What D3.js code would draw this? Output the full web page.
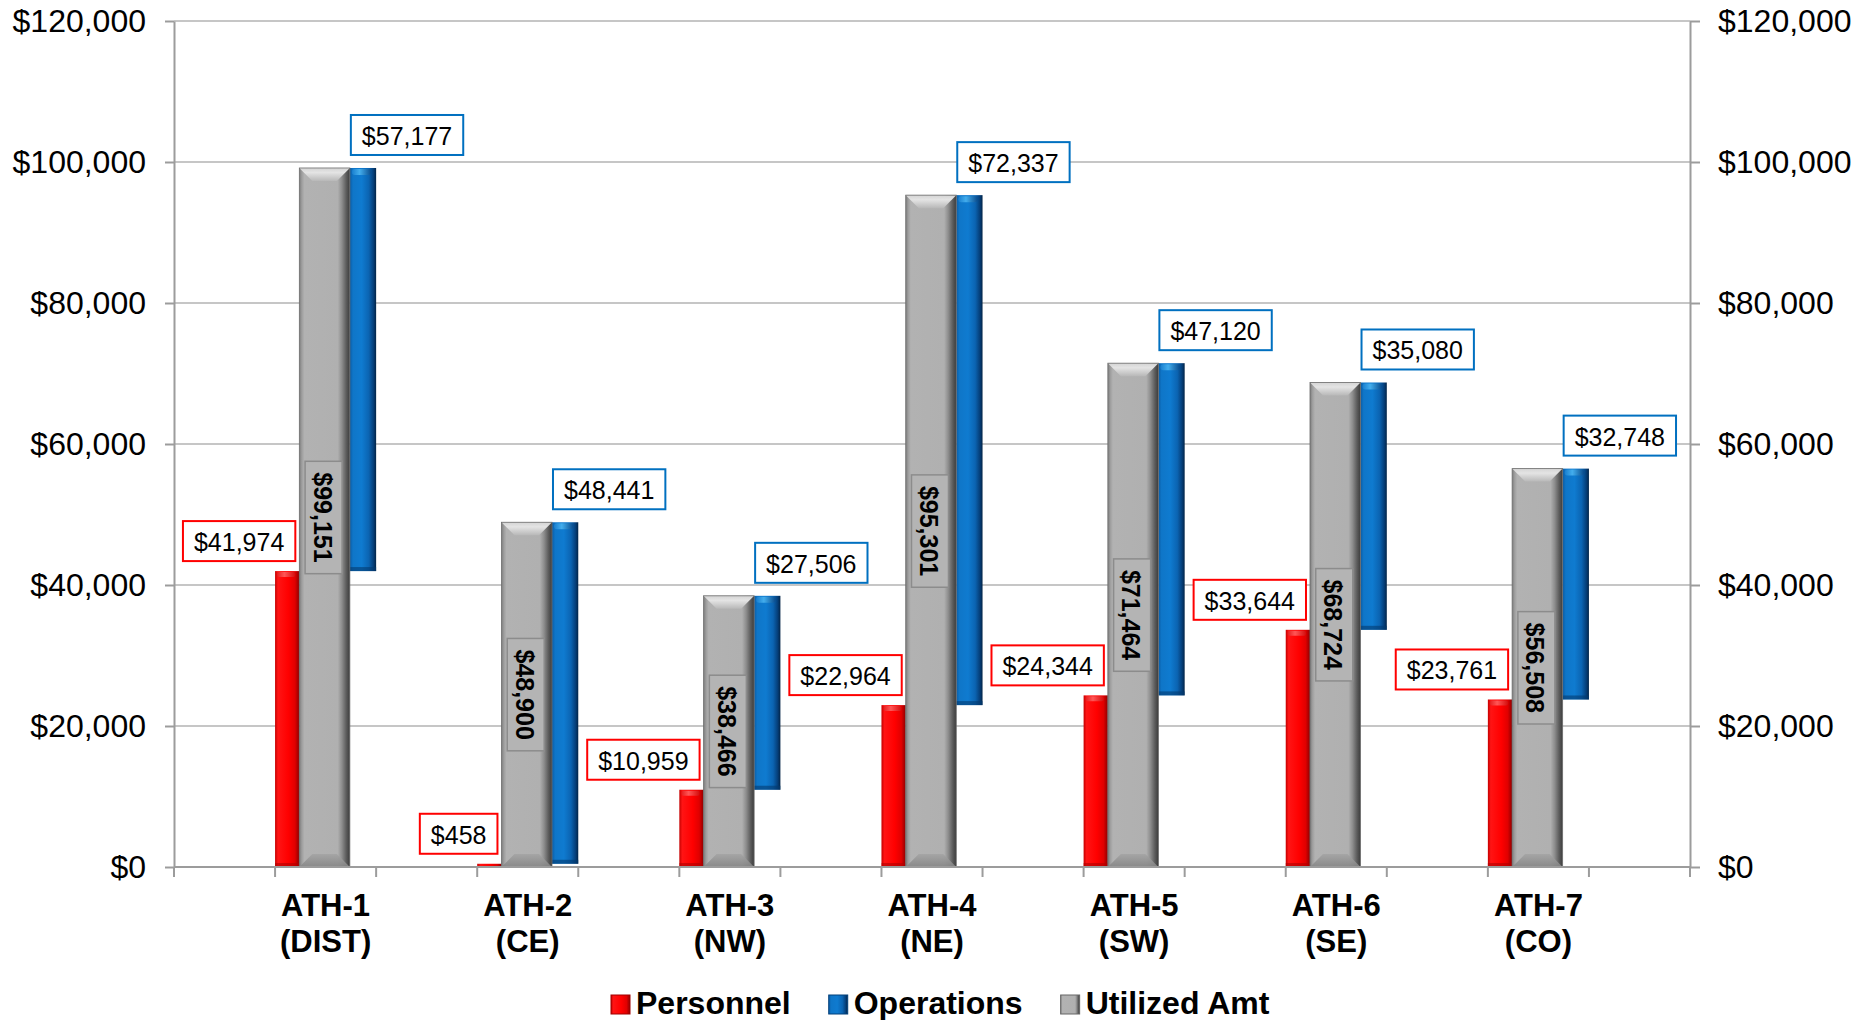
<!DOCTYPE html>
<html><head><meta charset="utf-8">
<script src="https://cdn.jsdelivr.net/npm/d3@7"></script>
<style>
html,body{margin:0;padding:0;background:#fff;}
svg{display:block;font-family:"Liberation Sans",Arial,Helvetica,sans-serif;}
</style></head><body>
<svg id="chart" width="1868" height="1020"></svg>
<script>
// ---- data ----
const categories = ["ATH-1","ATH-2","ATH-3","ATH-4","ATH-5","ATH-6","ATH-7"];
const subLabels  = ["(DIST)","(CE)","(NW)","(NE)","(SW)","(SE)","(CO)"];
const personnel  = [41974, 458, 10959, 22964, 24344, 33644, 23761];
const operations = [57177, 48441, 27506, 72337, 47120, 35080, 32748];
const utilized   = [99151, 48900, 38466, 95301, 71464, 68724, 56508];
const yTicks     = [0, 20000, 40000, 60000, 80000, 100000, 120000];
const seriesNames = ["Personnel","Operations","Utilized Amt"];

// ---- layout ----
const L = 174, R = 1690, T = 21, B = 867;
const svg = d3.select("#chart");
const fmt = d3.format("$,.0f");

const x = d3.scaleBand().domain(categories).range([L, R]).paddingInner(0.5).paddingOuter(0.5);
const y = d3.scaleLinear().domain([0, 120000]).range([B, T]);
const bw = x.bandwidth();
const sub = d3.scaleLinear().domain([0, 1]).range([0, bw]);
const seg = {red: [0, 0.24], gray: [0.24, 0.74], blue: [0.74, 1.0]};

// ---- gradients ----
const defs = svg.append("defs");
function hgrad(id, stops) {
  const g = defs.append("linearGradient").attr("id", id).attr("x1", 0).attr("x2", 1).attr("y1", 0).attr("y2", 0);
  stops.forEach(s => g.append("stop").attr("offset", s[0]).attr("stop-color", s[1]));
}
function vgrad(id, stops) {
  const g = defs.append("linearGradient").attr("id", id).attr("x1", 0).attr("x2", 0).attr("y1", 0).attr("y2", 1);
  stops.forEach(s => g.append("stop").attr("offset", s[0]).attr("stop-color", s[1]));
}
hgrad("gGray", [[0,"#7c7c7c"],[0.05,"#9e9e9e"],[0.1,"#b2b2b2"],[0.76,"#b0b0b0"],[0.84,"#8e8e8e"],[0.93,"#5c5c5c"],[1,"#3c3c3c"]]);
vgrad("gGrayTop", [[0,"#d4d4d4"],[0.35,"#e4e4e4"],[1,"#b8b8b8"]]);
vgrad("gGrayBot", [[0,"#a4a4a4"],[1,"#858585"]]);
hgrad("gBlue", [[0,"#0b5ca4"],[0.12,"#0f76c8"],[0.45,"#0f7bd0"],[0.72,"#0b64b2"],[0.9,"#053e78"],[1,"#022447"]]);
hgrad("gRed", [[0,"#c40000"],[0.12,"#ff1414"],[0.55,"#ff0000"],[0.82,"#e00000"],[1,"#8e0000"]]);
hgrad("gRedTop", [[0,"#e02020"],[0.4,"#ff6a6a"],[1,"#d01010"]]);
hgrad("gBlueTop", [[0,"#1a80d0"],[0.4,"#4cb6f2"],[1,"#0a4a8a"]]);

// ---- gridlines ----
svg.append("g").selectAll("line").data(yTicks.filter(d => d > 0)).join("line")
  .attr("x1", L).attr("x2", R).attr("y1", d => y(d)).attr("y2", d => y(d))
  .attr("stroke", "#c6c6c6").attr("stroke-width", 2);

// ---- bars ----
const data = categories.map((c, i) => ({c, i, p: personnel[i], o: operations[i], u: utilized[i]}));
const bars = svg.append("g");

// red (Personnel)
data.forEach(d => {
  const x0 = x(d.c) + sub(seg.red[0]), x1 = x(d.c) + sub(seg.red[1]);
  const top = y(d.p), h = B - top;
  bars.append("rect").attr("x", x0).attr("y", top).attr("width", x1 - x0).attr("height", h).attr("fill", "url(#gRed)");
  if (h > 8) {
    bars.append("rect").attr("x", x0 + 2).attr("y", top + 1).attr("width", x1 - x0 - 6).attr("height", 5).attr("rx", 2).attr("fill", "url(#gRedTop)").attr("opacity", 0.8);
    bars.append("rect").attr("x", x0).attr("y", B - 4).attr("width", x1 - x0).attr("height", 4).attr("fill", "#b00000").attr("opacity", 0.6);
  }
});

// blue (Operations) floating from personnel to personnel + operations
data.forEach(d => {
  const x0 = x(d.c) + sub(seg.blue[0]), x1 = x(d.c) + sub(seg.blue[1]);
  const top = y(d.p + d.o), bot = y(d.p);
  bars.append("rect").attr("x", x0).attr("y", top).attr("width", x1 - x0).attr("height", bot - top).attr("fill", "url(#gBlue)");
  bars.append("rect").attr("x", x0 + 2).attr("y", top + 1).attr("width", x1 - x0 - 7).attr("height", 6).attr("rx", 3).attr("fill", "url(#gBlueTop)").attr("opacity", 0.85);
  bars.append("rect").attr("x", x0).attr("y", bot - 4).attr("width", x1 - x0).attr("height", 4).attr("fill", "#033a70").attr("opacity", 0.6);
});

// gray (Utilized)
data.forEach(d => {
  const x0 = x(d.c) + sub(seg.gray[0]), x1 = x(d.c) + sub(seg.gray[1]);
  const top = y(d.u), b = 13;
  bars.append("rect").attr("x", x0).attr("y", top).attr("width", x1 - x0).attr("height", B - top).attr("fill", "url(#gGray)");
  bars.append("polygon")
    .attr("points", [[x0, top], [x1, top], [x1 - b, top + b], [x0 + b, top + b]].map(p => p.join(",")).join(" "))
    .attr("fill", "url(#gGrayTop)");
  bars.append("polygon")
    .attr("points", [[x0, B], [x1, B], [x1 - b, B - b], [x0 + b, B - b]].map(p => p.join(",")).join(" "))
    .attr("fill", "url(#gGrayBot)").attr("opacity", 0.9);
  bars.append("rect").attr("x", x0).attr("y", top).attr("width", x1 - x0).attr("height", B - top)
    .attr("fill", "none").attr("stroke", "#6e6e6e").attr("stroke-width", 0.8);
});

// ---- axes ----
const axisColor = "#9c9c9c";
const yl = svg.append("g").attr("transform", `translate(${L},0)`)
  .call(d3.axisLeft(y).tickValues(yTicks).tickFormat(fmt).tickSize(9).tickSizeOuter(0).tickPadding(19));
const yr = svg.append("g").attr("transform", `translate(${R},0)`)
  .call(d3.axisRight(y).tickValues(yTicks).tickFormat(fmt).tickSize(10).tickSizeOuter(0).tickPadding(18));
[yl, yr].forEach(g => {
  g.select(".domain").attr("stroke", axisColor).attr("stroke-width", 2);
  g.selectAll(".tick line").attr("stroke", axisColor).attr("stroke-width", 2);
  g.selectAll(".tick text").attr("fill", "#000").attr("font-size", 32).attr("font-family", '"Liberation Sans",Arial,sans-serif');
});

// x axis line and slot ticks
svg.append("line").attr("x1", L).attr("x2", R).attr("y1", B).attr("y2", B).attr("stroke", axisColor).attr("stroke-width", 2);
const slotEdges = [L, R];
categories.forEach(c => { slotEdges.push(x(c)); slotEdges.push(x(c) + bw); });
svg.append("g").selectAll("line").data(slotEdges).join("line")
  .attr("x1", d => d).attr("x2", d => d).attr("y1", B).attr("y2", B + 10)
  .attr("stroke", axisColor).attr("stroke-width", 2);

// category labels
const cl = svg.append("g").attr("font-weight", "bold").attr("font-size", 31).attr("text-anchor", "middle").attr("fill", "#000");
categories.forEach((c, i) => {
  const cx = x(c) + bw / 2;
  cl.append("text").attr("x", cx).attr("y", 916).text(c);
  cl.append("text").attr("x", cx).attr("y", 952).text(subLabels[i]);
});

// ---- data labels ----
const lab = svg.append("g");
data.forEach(d => {
  // red label (Personnel)
  {
    const g = lab.append("g");
    const t = g.append("text").attr("font-size", 25).attr("fill", "#000").attr("dominant-baseline", "central").text(fmt(d.p));
    const tw = t.node().getComputedTextLength();
    const bwid = tw + 22, bh = 40;
    const rx1 = x(d.c) + sub(seg.red[1]) - 4;
    const cy = y(d.p) - 30;
    g.insert("rect", "text").attr("x", rx1 - bwid).attr("y", cy - bh / 2).attr("width", bwid).attr("height", bh)
      .attr("fill", "#fff").attr("stroke", "#ff0000").attr("stroke-width", 2);
    t.attr("x", rx1 - bwid + 11).attr("y", cy + 1);
  }
  // blue label (Operations)
  {
    const g2 = lab.append("g");
    const t = g2.append("text").attr("font-size", 25).attr("fill", "#000").attr("dominant-baseline", "central").text(fmt(d.o));
    const tw = t.node().getComputedTextLength();
    const bwid = tw + 22, bh = 40;
    const bx = x(d.c) + sub(seg.blue[0]) + 1;
    const cy = y(d.p + d.o) - 33;
    g2.insert("rect", "text").attr("x", bx).attr("y", cy - bh / 2).attr("width", bwid).attr("height", bh)
      .attr("fill", "#fff").attr("stroke", "#0070c0").attr("stroke-width", 2);
    t.attr("x", bx + 11).attr("y", cy + 1);
  }
  // gray rotated label (Utilized)
  {
    const cx = x(d.c) + sub((seg.gray[0] + seg.gray[1]) / 2) - 1;
    const cy = (y(d.u) + B) / 2;
    const g3 = lab.append("g").attr("transform", `translate(${cx},${cy}) rotate(90)`);
    const t = g3.append("text").attr("font-size", 25).attr("font-weight", "bold").attr("fill", "#000")
      .attr("text-anchor", "middle").attr("dominant-baseline", "central").attr("y", 1).text(fmt(d.u));
    const tw = t.node().getComputedTextLength();
    g3.insert("rect", "text").attr("x", -(tw + 22) / 2).attr("y", -18.5).attr("width", tw + 22).attr("height", 37)
      .attr("fill", "#b4b4b4").attr("stroke", "#8c8c8c").attr("stroke-width", 1.5);
  }
});

// ---- legend ----
const legFills = ["url(#gRed)", "url(#gBlue)", "url(#gGray)"];
const legStroke = ["#a00000", "#03407a", "#666"];
const leg = svg.append("g").attr("font-weight", "bold").attr("font-size", 32).attr("fill", "#000");
let lx = 611;
seriesNames.forEach((n, i) => {
  leg.append("rect").attr("x", lx).attr("y", 995).attr("width", 19).attr("height", 19).attr("fill", legFills[i])
    .attr("stroke", legStroke[i]).attr("stroke-width", 1);
  const t = leg.append("text").attr("x", lx + 25).attr("y", 1014).text(n);
  lx += 25 + t.node().getComputedTextLength() + 38;
});
</script>
</body></html>
